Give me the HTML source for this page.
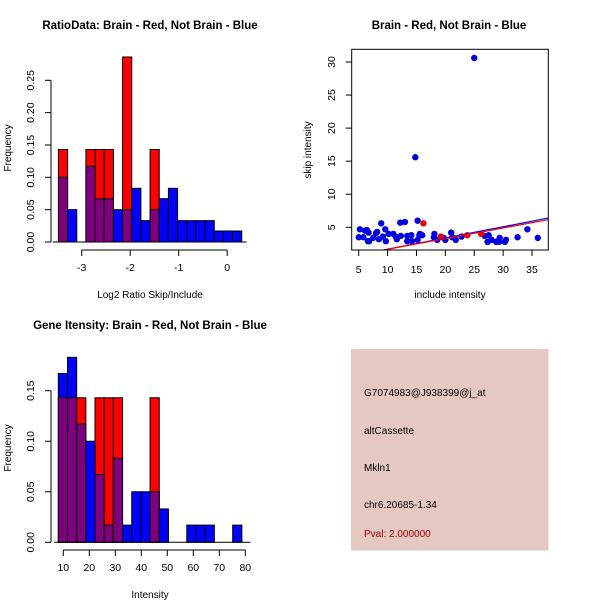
<!DOCTYPE html>
<html><head><meta charset="utf-8"><style>
body{margin:0;background:#fff}
svg{display:block;font-family:"Liberation Sans",sans-serif}
</style></head><body>
<svg id="s" width="600" height="600" viewBox="0 0 600 600">
<rect width="600" height="600" fill="#fff"/>
<text x="150" y="29" font-size="11.5" font-weight="bold" text-anchor="middle">RatioData: Brain - Red, Not Brain - Blue</text>
<text x="449" y="29" font-size="11.5" font-weight="bold" text-anchor="middle">Brain - Red, Not Brain - Blue</text>
<text x="150" y="329" font-size="11.5" font-weight="bold" text-anchor="middle">Gene Itensity: Brain - Red, Not Brain - Blue</text>
<text x="150" y="298" font-size="10" text-anchor="middle">Log2 Ratio Skip/Include</text>
<text x="450" y="298" font-size="10" text-anchor="middle">include intensity</text>
<text x="150" y="598" font-size="10" text-anchor="middle">Intensity</text>
<text transform="translate(11,148) rotate(-90)" font-size="10" text-anchor="middle">Frequency</text>
<text transform="translate(311,150) rotate(-90)" font-size="10" text-anchor="middle">skip intensity</text>
<text transform="translate(11,448) rotate(-90)" font-size="10" text-anchor="middle">Frequency</text>
<g>
<rect x="351" y="349" width="197.5" height="201.5" fill="#e5c8c2"/>
<text x="364" y="396" font-size="10">G7074983@J938399@j_at</text>
<text x="364" y="434" font-size="10">altCassette</text>
<text x="364" y="471" font-size="10">Mkln1</text>
<text x="364" y="508" font-size="10">chr6.20685-1.34</text>
<text x="364" y="537" font-size="10" fill="#a00000">Pval: 2.000000</text>
</g>
</svg>
<script>
const ratioBlue=[0.10,0.05,0,0.117,0.067,0.067,0.05,0.05,0.083,0.033,0.05,0.067,0.083,0.033,0.033,0.033,0.033,0.017,0.017,0.017];
const ratioRed=[0.143,0,0,0.143,0.143,0.143,0,0.286,0,0,0.143,0,0,0,0,0,0,0,0,0];
const ratioTicksX=[-3,-2,-1,0];
const ratioTicksY=[0,0.05,0.10,0.15,0.20,0.25];
const geneBlue=[0.167,0.183,0.117,0.10,0.067,0.017,0.083,0.017,0.05,0.05,0.05,0.033,0,0,0.017,0.017,0.017,0,0,0.017];
const geneRed=[0.143,0.143,0.143,0,0.143,0.143,0.143,0,0,0,0.143,0,0,0,0,0,0,0,0,0];
const geneTicksX=[10,20,30,40,50,60,70,80];
const geneTicksY=[0,0.05,0.10,0.15];
const scatBlueX=[5,5.2,5.8,6.1,6.4,6.6,6.7,6.8,7.5,8,8.2,8.5,8.9,9.2,9.6,9.7,10.2,11,11.4,11.6,12.2,12.3,13,13.4,13.4,14.1,14.2,14.8,15.2,15.2,15.5,15.6,16,18,18.1,18.6,19.7,20,21,21.2,21.8,22.8,25,26.8,27.3,27.5,28,28.8,29.3,29.4,30.3,30.5,32.5,34.2,36];
const scatBlueY=[3.5,4.7,3.5,4.5,4.6,2.9,4.2,2.9,3.4,4.1,4.3,3.2,5.6,3.6,4.7,2.9,4,4,3.6,3.2,5.7,3.7,5.8,3.7,2.9,3.8,2.9,15.6,6,3.1,3.8,4,3.8,3.5,4,3.1,3.4,3.1,4.2,3.5,3.1,3.6,30.6,3.7,2.8,3.8,3.1,2.8,2.8,3.4,2.8,3.1,3.5,4.7,3.4];
const scatRedX=[16.2,19.2,23.8,26.2];
const scatRedY=[5.6,3.6,3.8,4.0];
const scatTicksX=[5,10,15,20,25,30,35];
const scatTicksY=[5,10,15,20,25,30];
const fitBlue=[9.3,1.57,37.8,6.4];
const fitRed=[9.3,1.57,37.8,6.15];
const NS='http://www.w3.org/2000/svg';
const svg=document.getElementById('s');
function mk(tag,attrs,parent){const e=document.createElementNS(NS,tag);for(const k in attrs)e.setAttribute(k,attrs[k]);(parent||svg).appendChild(e);return e;}
function fmt(v,d){return v.toFixed(d);}
function hist(name,blue,red,x0,bw,sx,sy,ticksX,ticksY,xAxisY,yAxisX,xmin,xmax){
  const g=mk('g',{});
  
  
  const y0=sy(0);
  for(let i=0;i<blue.length;i++){
    const xa=sx(x0+i*bw),xb=sx(x0+(i+1)*bw);
    const b=blue[i],r=red[i];
    const hi=Math.max(b,r),lo=Math.min(b,r);
    if(hi<=0)continue;
    const r1=mk('rect',{x:xa,y:sy(hi),width:xb-xa,height:y0-sy(hi),fill:b>=r?'#0000ff':'#ff0000',stroke:'#000','stroke-width':1},g);
    
    
    if(lo>0){const r2=mk('rect',{x:xa,y:sy(lo),width:xb-xa,height:y0-sy(lo),fill:'#7f007f',stroke:'#000','stroke-width':1},g);
    
    }
  }
  const ax=mk('g',{stroke:'#000','stroke-width':1,fill:'none'},g);
  mk('line',{x1:sx(ticksX[0]),x2:sx(ticksX[ticksX.length-1]),y1:xAxisY,y2:xAxisY},ax);
  ticksX.forEach(t=>{mk('line',{x1:sx(t),x2:sx(t),y1:xAxisY,y2:xAxisY+6},ax);
    const tx=mk('text',{x:sx(t),y:xAxisY+21,'font-size':10.5,'text-anchor':'middle',fill:'#000',stroke:'none'},g);tx.textContent=t;});
  mk('line',{x1:yAxisX,x2:yAxisX,y1:sy(ticksY[0]),y2:sy(ticksY[ticksY.length-1])},ax);
  ticksY.forEach(t=>{mk('line',{x1:yAxisX,x2:yAxisX-6,y1:sy(t),y2:sy(t)},ax);
    const tx=mk('text',{transform:`translate(${yAxisX-17},${sy(t)}) rotate(-90)`,'font-size':10.5,'text-anchor':'middle',fill:'#000',stroke:'none'},g);tx.textContent=fmt(t,2);});
  mk('line',{x1:sx(xmin),x2:sx(xmax),y1:y0,y2:y0},ax);
}
hist('ratio-histogram',ratioBlue,ratioRed,-3.48,0.189,v=>81.7+(v+3)*48.5,v=>242-v*646.8,ratioTicksX,ratioTicksY,250,51,-3.6,0.4);
hist('gene-histogram',geneBlue,geneRed,8.08,3.53,v=>63.3+(v-10)*2.6,v=>542.3-v*1010.7,geneTicksX,geneTicksY,550,51,6.5,82);
const sxs=v=>358.7+(v-5)*5.777, sys=v=>227.3-(v-5)*6.613;
const sg=mk('g',{});


const clip=mk('clipPath',{id:'cp'},sg);mk('rect',{x:351.7,y:49.3,width:196.6,height:200.7},clip);
for(let i=0;i<scatBlueX.length;i++){const c=mk('circle',{cx:sxs(scatBlueX[i]),cy:sys(scatBlueY[i]),r:3.2,fill:'#0000e0'},sg);

}
for(let i=0;i<scatRedX.length;i++){const c=mk('circle',{cx:sxs(scatRedX[i]),cy:sys(scatRedY[i]),r:3.2,fill:'#ee0000'},sg);

}
const lb=mk('line',{x1:sxs(fitBlue[0]),y1:sys(fitBlue[1]),x2:sxs(fitBlue[2]),y2:sys(fitBlue[3]),stroke:'#0000ff','stroke-width':1.2,'clip-path':'url(#cp)'},sg);


const lr=mk('line',{x1:sxs(fitRed[0]),y1:sys(fitRed[1]),x2:sxs(fitRed[2]),y2:sys(fitRed[3]),stroke:'#ff0000','stroke-width':1.2,'clip-path':'url(#cp)'},sg);


mk('rect',{x:351.7,y:49.3,width:196.6,height:200.7,fill:'none',stroke:'#000'},sg);
scatTicksX.forEach(t=>{mk('line',{x1:sxs(t),x2:sxs(t),y1:250,y2:256,stroke:'#000'},sg);
  const tx=mk('text',{x:sxs(t),y:273,'font-size':10.5,'text-anchor':'middle'},sg);tx.textContent=t;});
scatTicksY.forEach(t=>{mk('line',{x1:351.7,x2:345.7,y1:sys(t),y2:sys(t),stroke:'#000'},sg);
  const tx=mk('text',{transform:`translate(335,${sys(t)}) rotate(-90)`,'font-size':10.5,'text-anchor':'middle'},sg);tx.textContent=t;});
</script>
</body></html>
